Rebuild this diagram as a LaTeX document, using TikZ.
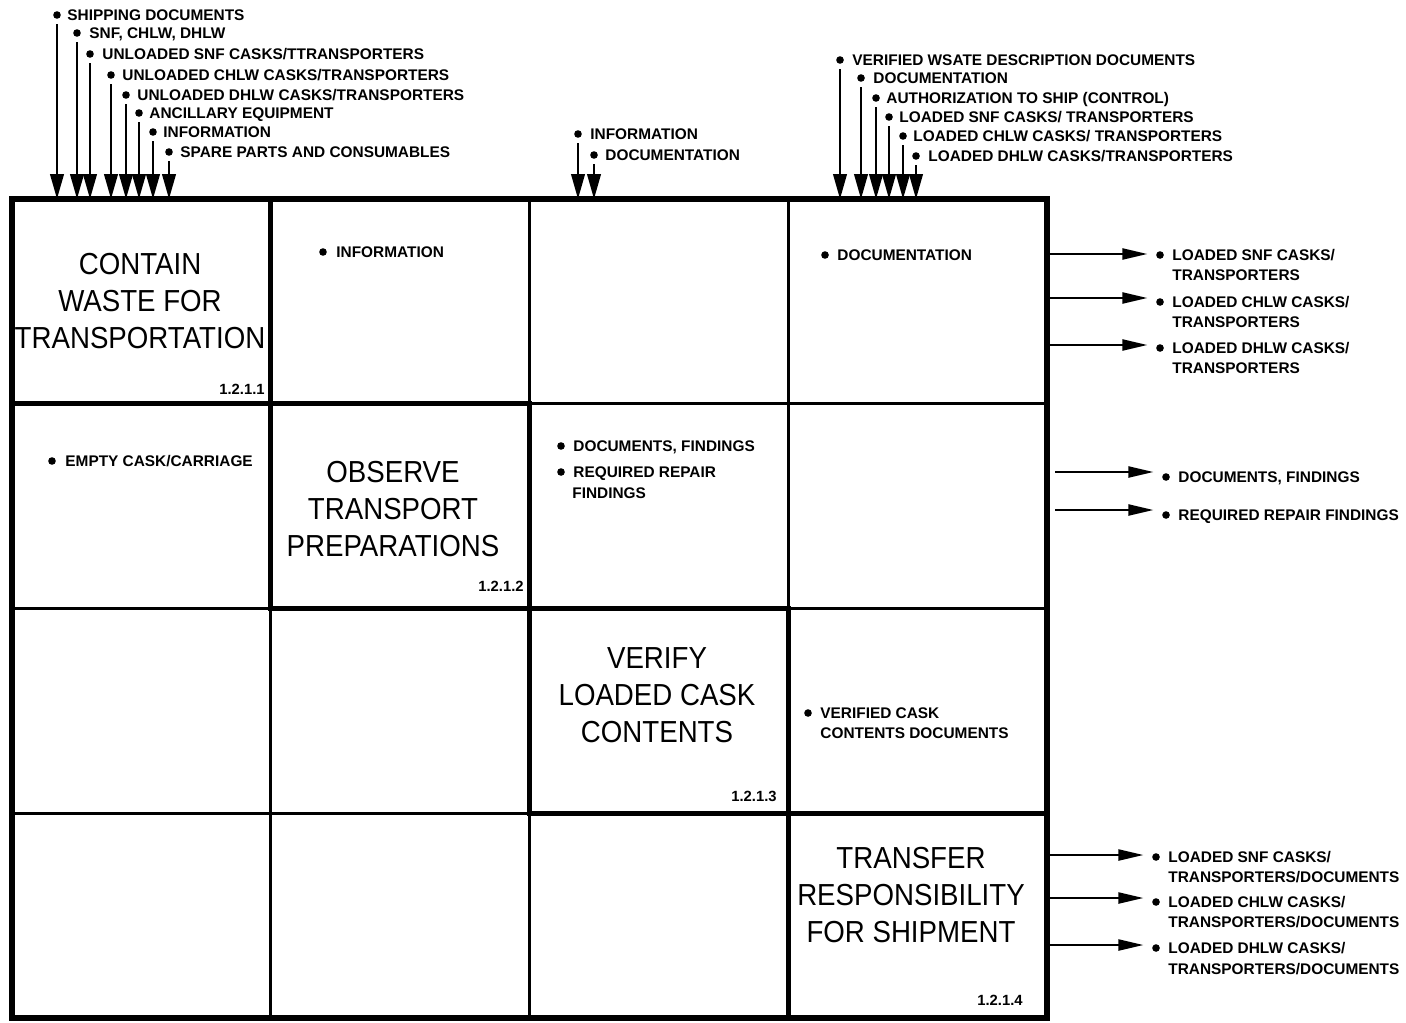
\documentclass[tikz,border=0pt]{standalone}
\usepackage{fontspec}
\setmainfont{Liberation Sans}
\newfontfamily\titlefont[FakeStretch=0.91]{Liberation Sans}
\usetikzlibrary{arrows.meta}
\begin{document}
\begin{tikzpicture}[x=0.5pt,y=-0.5pt,
  cell/.style={draw, line width=1.5pt, minimum width=129.375pt, minimum height=102.375pt, inner sep=0pt, outer sep=0pt},
  fnbox/.style={line width=2.6pt},
  dot/.style={circle, fill, inner sep=0pt, minimum size=3.8pt},
  lbl/.style={font=\bfseries\fontsize{7.7}{9}\selectfont, inner sep=0pt, anchor=base west, yshift=-0.3pt},
  num/.style={font=\bfseries\fontsize{7.4}{8.6}\selectfont, inner sep=0pt, anchor=base east},
  ttl/.style={font=\titlefont\fontsize{15.2}{18.5}\selectfont, align=center, inner sep=0pt},
  tarr/.style={line width=1.1pt, -{Triangle[length=12.5pt,width=6.8pt]}, shorten <=2.5pt},
  rarr/.style={line width=1.1pt, -{Triangle[length=12.5pt,width=5.5pt]}, shorten >=4.2pt},
]
\useasboundingbox (0,0) rectangle (1406,1022);

% grid of cells
\foreach \rr in {1,...,4}{
  \foreach \cc in {1,...,4}{
    \node[cell] (c\rr\cc) at ({12+(\cc-0.5)*258.75},{199+(\rr-0.5)*204.75}) {};
  }
}
\draw[fnbox] (c11.north west) rectangle (c44.south east);
\draw[fnbox] (c11.north west) rectangle (c11.south east);
\draw[fnbox] (c22.north west) rectangle (c22.south east);
\draw[fnbox] (c33.north west) rectangle (c33.south east);
\draw[fnbox] (c44.north west) rectangle (c44.south east);

% function titles and numbers
\node[ttl] (f1) at (140,301) {CONTAIN\\WASTE FOR\\TRANSPORTATION};
\node[ttl] (f2) at (393,509) {OBSERVE\\TRANSPORT\\PREPARATIONS};
\node[ttl] (f3) at (657,695) {VERIFY\\LOADED CASK\\CONTENTS};
\node[ttl] (f4) at (911,895) {TRANSFER\\RESPONSIBILITY\\FOR SHIPMENT};
\node[num] (n1) at (265,394) {1.2.1.1};
\node[num] (n2) at (524,591) {1.2.1.2};
\node[num] (n3) at (777,801) {1.2.1.3};
\node[num] (n4) at (1023,1005) {1.2.1.4};

% inputs to 1.2.1.1
\node[dot] (ia1) at (57,15) {};  \node[lbl] (ta1) at (67,20) {SHIPPING DOCUMENTS};
\node[dot] (ia2) at (77,33) {};  \node[lbl] (ta2) at (89,38) {SNF, CHLW, DHLW};
\node[dot] (ia3) at (90,54) {};  \node[lbl] (ta3) at (102,59) {UNLOADED SNF CASKS/TTRANSPORTERS};
\node[dot] (ia4) at (111,75) {}; \node[lbl] (ta4) at (122,80) {UNLOADED CHLW CASKS/TRANSPORTERS};
\node[dot] (ia5) at (126,95) {}; \node[lbl] (ta5) at (137,100) {UNLOADED DHLW CASKS/TRANSPORTERS};
\node[dot] (ia6) at (139,113) {}; \node[lbl] (ta6) at (149,118) {ANCILLARY EQUIPMENT};
\node[dot] (ia7) at (153,132) {}; \node[lbl] (ta7) at (163,137) {INFORMATION};
\node[dot] (ia8) at (169,152) {}; \node[lbl] (ta8) at (180,157) {SPARE PARTS AND CONSUMABLES};
\foreach \k in {1,...,8}{ \draw[tarr] (ia\k) -- (ia\k |- c11.north); }

% inputs to column 3
\node[dot] (ib1) at (578,134) {}; \node[lbl] (tb1) at (590,139) {INFORMATION};
\node[dot] (ib2) at (594,155) {}; \node[lbl] (tb2) at (605,160) {DOCUMENTATION};
\foreach \k in {1,2}{ \draw[tarr] (ib\k) -- (ib\k |- c13.north); }

% inputs to column 4
\node[dot] (ic1) at (840,60) {};  \node[lbl] (tc1) at (852,65) {VERIFIED WSATE DESCRIPTION DOCUMENTS};
\node[dot] (ic2) at (861,78) {};  \node[lbl] (tc2) at (873,83) {DOCUMENTATION};
\node[dot] (ic3) at (876,98) {};  \node[lbl] (tc3) at (886,103) {AUTHORIZATION TO SHIP (CONTROL)};
\node[dot] (ic4) at (889,117) {}; \node[lbl] (tc4) at (899,122) {LOADED SNF CASKS/ TRANSPORTERS};
\node[dot] (ic5) at (903,136) {}; \node[lbl] (tc5) at (913,141) {LOADED CHLW CASKS/ TRANSPORTERS};
\node[dot] (ic6) at (916,156) {}; \node[lbl] (tc6) at (928,161) {LOADED DHLW CASKS/TRANSPORTERS};
\foreach \k in {1,...,6}{ \draw[tarr] (ic\k) -- (ic\k |- c14.north); }

% labels inside cells
\node[dot] (d12) at (323,252) {}; \node[lbl] (l12) at (336,257) {INFORMATION};
\node[dot] (d14) at (825,255) {}; \node[lbl] (l14) at (837,260) {DOCUMENTATION};
\node[dot] (d21) at (52,461) {};  \node[lbl] (l21) at (65,466) {EMPTY CASK/CARRIAGE};
\node[dot] (d23a) at (561,446) {}; \node[lbl] (l23a) at (573,451) {DOCUMENTS, FINDINGS};
\node[dot] (d23b) at (561,472) {}; \node[lbl] (l23b) at (573,477) {REQUIRED REPAIR};
\node[lbl] (l23c) at (572,498) {FINDINGS};
\node[dot] (d34) at (808,713) {}; \node[lbl] (l34a) at (820,718) {VERIFIED CASK};
\node[lbl] (l34b) at (820,738) {CONTENTS DOCUMENTS};

% outputs row 1
\coordinate (oa1) at (1047,254);
\coordinate (oa2) at (1047,298);
\coordinate (oa3) at (1047,345);
\node[dot] (ob1) at (1160,255) {}; \node[lbl] (oc1) at (1172,260) {LOADED SNF CASKS/};
\node[lbl] (od1) at (1172,280) {TRANSPORTERS};
\node[dot] (ob2) at (1160,302) {}; \node[lbl] (oc2) at (1172,307) {LOADED CHLW CASKS/};
\node[lbl] (od2) at (1172,327) {TRANSPORTERS};
\node[dot] (ob3) at (1160,348) {}; \node[lbl] (oc3) at (1172,353) {LOADED DHLW CASKS/};
\node[lbl] (od3) at (1172,373) {TRANSPORTERS};
\foreach \k in {1,2,3}{ \draw[rarr] (oa\k) -- (oa\k -| ob\k.west); }

% outputs row 2
\coordinate (pa1) at (1055,472);
\coordinate (pa2) at (1055,510);
\node[dot] (pb1) at (1166,477) {}; \node[lbl] (pc1) at (1178,482) {DOCUMENTS, FINDINGS};
\node[dot] (pb2) at (1166,515) {}; \node[lbl] (pc2) at (1178,520) {REQUIRED REPAIR FINDINGS};
\foreach \k in {1,2}{ \draw[rarr] (pa\k) -- (pa\k -| pb\k.west); }

% outputs row 4
\coordinate (qa1) at (1047,855);
\coordinate (qa2) at (1047,898);
\coordinate (qa3) at (1047,945);
\node[dot] (qb1) at (1156,857) {}; \node[lbl] (qc1) at (1168,862) {LOADED SNF CASKS/};
\node[lbl] (qd1) at (1168,882) {TRANSPORTERS/DOCUMENTS};
\node[dot] (qb2) at (1156,902) {}; \node[lbl] (qc2) at (1168,907) {LOADED CHLW CASKS/};
\node[lbl] (qd2) at (1168,927) {TRANSPORTERS/DOCUMENTS};
\node[dot] (qb3) at (1156,948) {}; \node[lbl] (qc3) at (1168,953) {LOADED DHLW CASKS/};
\node[lbl] (qd3) at (1168,974) {TRANSPORTERS/DOCUMENTS};
\foreach \k in {1,2,3}{ \draw[rarr] (qa\k) -- (qa\k -| qb\k.west); }
\end{tikzpicture}
\end{document}
